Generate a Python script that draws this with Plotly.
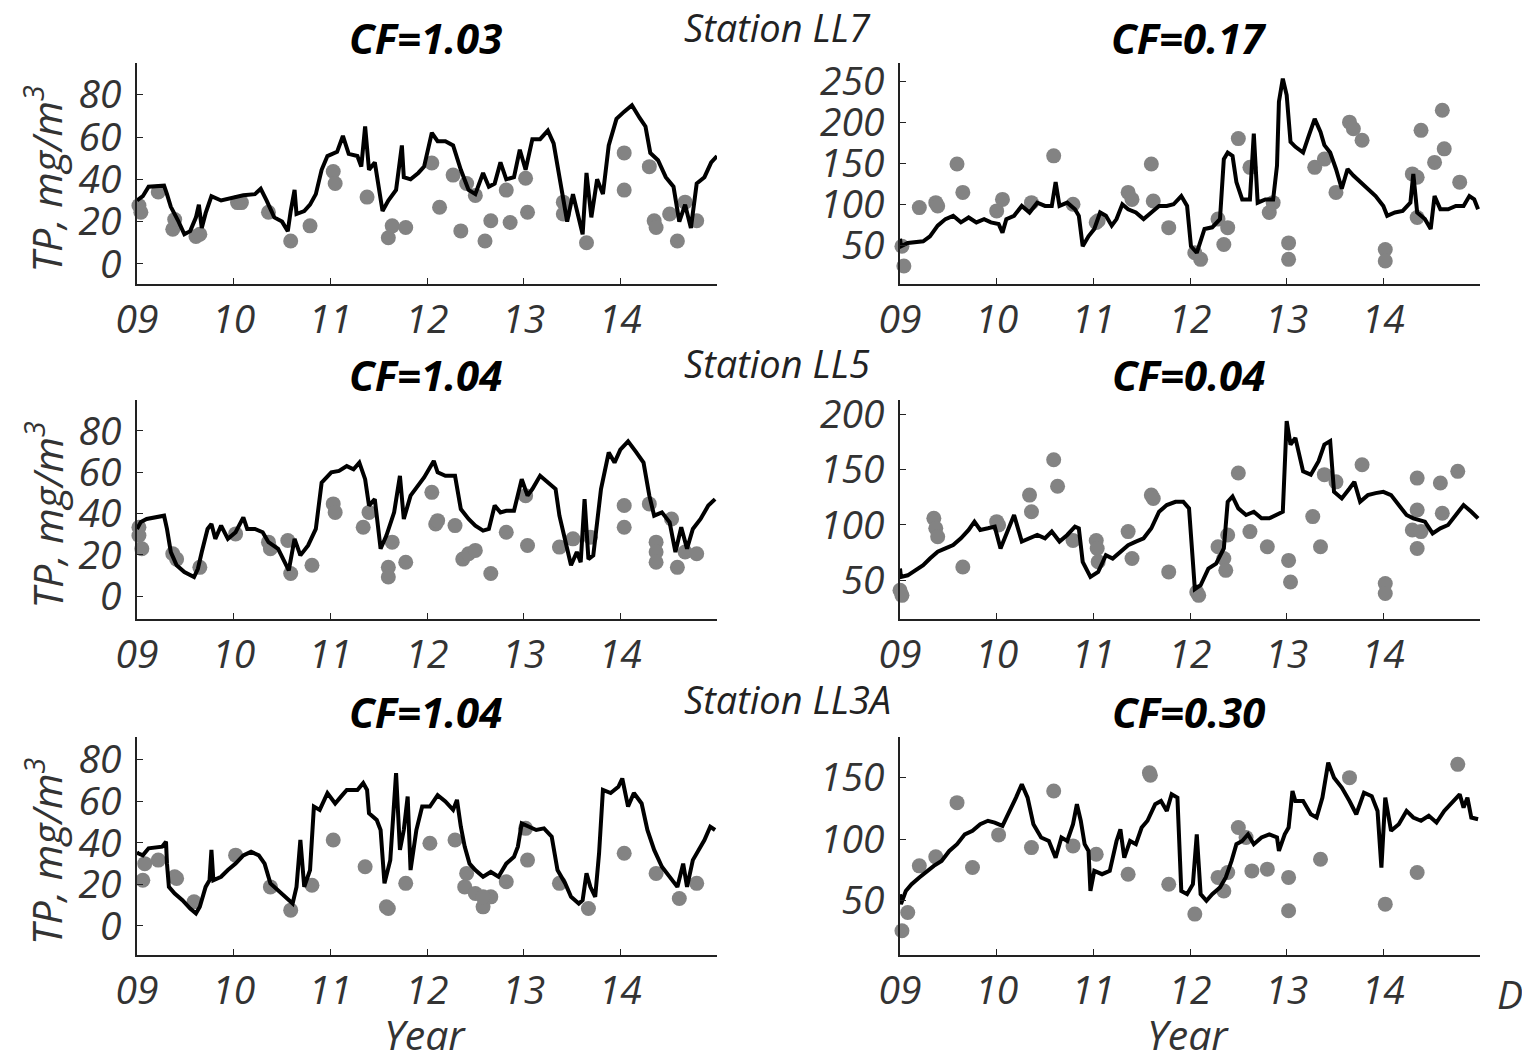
import plotly.graph_objects as go

# ---------------- data (x = two-digit year, decimal) ----------------
ll7_lake = [(9.00,30),(9.06,32),(9.12,36.5),(9.28,37),(9.31,33),(9.35,27),(9.43,20),(9.49,14),(9.55,15.5),(9.61,22),(9.64,28),(9.67,17),(9.71,24),(9.77,32),(9.87,30),(9.98,31),(10.10,32.5),(10.22,33),(10.28,35.5),(10.34,30),(10.42,22),(10.50,20),(10.56,15.5),(10.59,25),(10.63,35),(10.65,23.6),(10.73,25),(10.79,28),(10.85,33),(10.91,44.5),(10.97,51),(11.07,53),(11.13,60.5),(11.19,52),(11.28,51),(11.32,46),(11.36,65),(11.40,44.5),(11.46,48),(11.54,25),(11.60,30),(11.68,35),(11.74,56),(11.76,41),(11.83,40),(11.91,43),(11.97,46),(12.05,62),(12.11,58),(12.19,58),(12.27,56),(12.35,44.5),(12.43,35),(12.50,33),(12.58,43),(12.64,36.5),(12.70,38),(12.76,48),(12.82,40),(12.90,41),(12.96,54),(13.02,44.5),(13.09,59),(13.17,59),(13.25,63),(13.31,57),(13.37,41),(13.45,20),(13.51,33),(13.57,22),(13.61,14),(13.65,43),(13.70,22),(13.76,40),(13.82,33),(13.88,56),(13.96,68.6),(14.04,72),(14.12,75),(14.20,69),(14.26,65),(14.31,52.5),(14.39,49),(14.47,41),(14.55,36.5),(14.61,20),(14.67,28),(14.73,17),(14.79,38),(14.87,41),(14.94,48),(15.00,51)]
ll7_lake_obs = [(9.02,27.6),(9.04,24.4),(9.22,34),(9.37,16.4),(9.39,21),(9.61,13),(9.65,14),(10.04,29),(10.08,29),(10.36,24.4),(10.59,10.8),(10.79,18),(11.03,43.7),(11.05,38),(11.38,31.6),(11.60,12.4),(11.64,18),(11.78,17.2),(12.05,47.7),(12.13,26.8),(12.27,42),(12.35,15.6),(12.41,38),(12.50,32.4),(12.60,10.8),(12.66,20.4),(12.82,34.9),(12.86,19.6),(13.02,40.5),(13.04,24.4),(13.41,29.2),(13.41,23.6),(13.65,10),(14.04,52.5),(14.04,34.9),(14.30,46),(14.35,20.4),(14.37,17.2),(14.51,23.6),(14.59,10.8),(14.67,29.2),(14.79,20.4)]

ll7_sed = [(9.00,58),(9.01,49),(9.08,53),(9.24,55),(9.31,61),(9.39,74),(9.47,82),(9.55,86),(9.63,78),(9.71,84),(9.79,78),(9.87,82),(9.94,78),(10.02,76),(10.06,65.5),(10.10,82),(10.18,86),(10.26,98),(10.34,90),(10.42,102),(10.50,98),(10.57,98),(10.61,127),(10.65,98),(10.73,102),(10.81,94),(10.85,86),(10.89,49),(10.95,61),(11.01,70),(11.07,90),(11.13,86),(11.19,74),(11.24,82),(11.30,100),(11.36,94),(11.44,90),(11.52,82),(11.60,90),(11.68,98),(11.76,98),(11.83,100),(11.91,110),(11.97,98),(12.01,49),(12.07,41),(12.15,70),(12.23,72),(12.31,82),(12.35,155),(12.39,163),(12.44,159),(12.48,127),(12.54,106),(12.62,106),(12.66,186),(12.70,102),(12.78,106),(12.86,106),(12.90,147),(12.92,225),(12.96,253),(13.00,233),(13.04,176),(13.09,170),(13.17,163),(13.23,184),(13.29,204),(13.35,188),(13.39,172),(13.45,163),(13.51,143),(13.57,119),(13.63,143),(13.69,135),(13.76,127),(13.84,119),(13.92,110),(14.00,98),(14.04,86),(14.12,90),(14.20,92),(14.28,102),(14.31,137),(14.35,90),(14.43,82),(14.49,70),(14.53,110),(14.59,94),(14.67,94),(14.75,98),(14.83,98),(14.89,110),(14.94,106),(14.98,94)]
ll7_sed_obs = [(9.02,49),(9.04,25),(9.20,96),(9.37,102),(9.39,98),(9.59,149),(9.65,114.5),(10.00,92),(10.06,106),(10.36,102),(10.59,159),(10.79,100),(11.03,78),(11.05,80),(11.36,114.5),(11.40,106),(11.60,149),(11.62,104),(11.78,71.6),(12.05,41),(12.11,33),(12.29,82),(12.35,51),(12.39,71.6),(12.50,180),(12.62,145),(12.82,90),(12.86,102),(13.02,53),(13.02,33),(13.29,145),(13.39,155),(13.51,114.5),(13.65,200),(13.69,192),(13.78,178),(14.02,45),(14.02,31),(14.30,137),(14.35,133),(14.35,84),(14.39,190),(14.53,151),(14.63,167.5),(14.61,214.5),(14.79,127)]

ll5_lake = [(9.00,32.6),(9.04,36),(9.10,37.4),(9.28,39),(9.31,32.6),(9.35,21.4),(9.41,15),(9.49,11.7),(9.59,9.3),(9.63,13.3),(9.67,21.4),(9.73,32.6),(9.77,35),(9.81,27.8),(9.87,34.2),(9.94,27.8),(10.02,31),(10.10,38.2),(10.14,32.6),(10.22,32.6),(10.30,31),(10.36,26.2),(10.46,23),(10.54,15),(10.57,12.5),(10.63,27.8),(10.69,19.8),(10.77,24.6),(10.85,32.6),(10.91,55),(11.01,60),(11.09,60.7),(11.17,63),(11.24,61.5),(11.30,64.7),(11.36,56.7),(11.40,43.9),(11.46,47),(11.52,23),(11.58,29.4),(11.66,40.6),(11.72,58.3),(11.76,37.4),(11.83,48.7),(11.91,53.5),(11.97,57.5),(12.07,65.5),(12.11,60),(12.19,58.3),(12.29,58.3),(12.35,42.2),(12.43,37.4),(12.50,34.2),(12.58,31.8),(12.64,32.6),(12.70,43.9),(12.76,40.6),(12.82,41.4),(12.90,41.4),(12.98,56.7),(13.04,48.7),(13.09,51.9),(13.17,58.3),(13.25,55),(13.33,51.9),(13.37,39),(13.43,26.2),(13.49,15),(13.55,21.4),(13.59,16.5),(13.63,47),(13.67,18),(13.72,19.8),(13.80,51.9),(13.88,69.6),(13.94,64.7),(14.00,71),(14.08,75),(14.16,70),(14.24,64.7),(14.30,48.7),(14.35,39),(14.43,40.6),(14.51,35.8),(14.57,21.4),(14.63,33.4),(14.69,23),(14.75,32.6),(14.83,37.4),(14.91,43.9),(14.98,47)]
ll5_lake_obs = [(9.02,33.4),(9.02,29.4),(9.05,23),(9.37,20.6),(9.41,18),(9.65,14),(10.02,30.2),(10.36,26.2),(10.38,23),(10.56,27),(10.59,11),(10.81,15),(11.03,44.7),(11.05,40.6),(11.34,33.4),(11.40,40.6),(11.60,14),(11.60,9.3),(11.64,26.2),(11.78,16.5),(12.05,50.3),(12.09,35),(12.11,36.6),(12.29,34.2),(12.37,18),(12.43,20.6),(12.50,22.2),(12.66,11),(12.82,31),(13.02,48.7),(13.04,24.6),(13.37,23.8),(13.51,27.8),(13.69,28.6),(14.04,43.9),(14.04,33.4),(14.30,44.7),(14.37,26.2),(14.37,21.4),(14.37,16.5),(14.53,37.4),(14.59,14),(14.67,21.4),(14.79,20.6)]

ll5_sed = [(9.00,60.6),(9.01,53),(9.08,54.5),(9.16,59),(9.24,63.6),(9.31,69.7),(9.39,75.8),(9.47,78.8),(9.55,81.8),(9.63,87.9),(9.71,95.5),(9.77,103),(9.83,95.5),(9.91,97),(9.98,98.5),(10.04,78.8),(10.10,91),(10.18,109),(10.26,85),(10.34,88),(10.42,91),(10.50,88),(10.57,94),(10.65,85),(10.73,91),(10.81,98.5),(10.85,97),(10.89,66.7),(10.97,53),(11.05,57.6),(11.13,72.7),(11.20,69.7),(11.28,75.8),(11.36,81.8),(11.44,85),(11.52,88),(11.60,97),(11.68,112),(11.76,118),(11.85,121),(11.93,121),(11.99,115),(12.03,66.7),(12.05,42),(12.11,45.5),(12.19,60.6),(12.27,65),(12.35,78.8),(12.39,121),(12.44,125.8),(12.50,115),(12.58,109),(12.66,112),(12.74,106),(12.82,106),(12.90,109),(12.96,112),(13.00,194),(13.04,172.7),(13.09,178.8),(13.17,148.5),(13.25,145.5),(13.33,157.6),(13.39,172.7),(13.45,175.8),(13.49,130),(13.57,124),(13.65,133),(13.70,139),(13.76,121),(13.84,127),(13.92,128.8),(14.00,130),(14.08,127),(14.16,118),(14.24,109),(14.31,106),(14.43,103),(14.51,92.4),(14.59,97),(14.67,100),(14.75,109),(14.83,118),(14.91,112),(14.98,106)]
ll5_sed_obs = [(9.00,41),(9.02,36.4),(9.35,106),(9.37,97),(9.39,89.4),(9.65,62),(10.00,103),(10.02,100),(10.34,127),(10.36,112),(10.59,159),(10.63,135),(10.79,86),(11.03,86),(11.04,78.8),(11.05,66.7),(11.36,94),(11.40,69.7),(11.60,127),(11.62,124),(11.78,57.6),(12.07,39.4),(12.09,36.4),(12.29,80.3),(12.35,69.7),(12.37,59),(12.39,91),(12.50,147),(12.62,94),(12.80,80.3),(13.02,68),(13.04,48.5),(13.27,107.6),(13.35,80.3),(13.39,145.5),(13.51,139),(13.78,154.5),(14.02,47),(14.02,38),(14.30,95.5),(14.35,142.4),(14.35,113.6),(14.39,94),(14.35,78.8),(14.59,138),(14.61,110.6),(14.77,148.5)]

ll3a_lake = [(9.00,35.7),(9.01,35),(9.06,34),(9.12,37.4),(9.26,38.2),(9.30,40.6),(9.31,30),(9.33,18.8),(9.39,15.6),(9.47,12.4),(9.55,8.4),(9.61,6),(9.65,9.2),(9.71,18.8),(9.75,22),(9.77,36.6),(9.79,22),(9.87,23.7),(9.94,26.9),(10.02,30),(10.10,34),(10.18,35.7),(10.26,34),(10.32,30),(10.38,20.5),(10.46,17.2),(10.54,14),(10.61,10.8),(10.65,18.8),(10.69,41.4),(10.73,18.8),(10.79,26.9),(10.83,57.5),(10.89,55.9),(10.97,64),(11.05,59),(11.11,62.3),(11.17,65.5),(11.28,65.5),(11.34,68.8),(11.38,65.5),(11.40,54.3),(11.48,51),(11.52,46.2),(11.56,20.5),(11.62,31.7),(11.68,73.6),(11.72,36.6),(11.76,46.2),(11.80,62.3),(11.83,26.9),(11.89,46.2),(11.95,57.5),(12.03,57.5),(12.11,63),(12.19,60),(12.27,55.9),(12.31,60.7),(12.35,47.8),(12.39,38.2),(12.44,30),(12.50,26.9),(12.58,23.7),(12.66,26),(12.74,23.7),(12.82,30),(12.90,33.3),(12.94,38.2),(12.98,49.4),(13.06,47.8),(13.13,46.2),(13.21,47),(13.29,43),(13.35,26.9),(13.43,20.5),(13.49,14),(13.57,10.8),(13.61,12.4),(13.65,25.3),(13.69,18.8),(13.74,14),(13.78,35),(13.82,65.5),(13.90,64),(13.98,67),(14.02,71),(14.08,57.5),(14.14,64),(14.22,59),(14.28,46.2),(14.35,36.6),(14.43,28.5),(14.51,23.7),(14.59,18.8),(14.65,30),(14.69,18.8),(14.75,31.7),(14.81,36.6),(14.87,41.4),(14.93,47.8),(14.98,46.2)]
ll3a_lake_obs = [(9.06,22),(9.08,30),(9.22,31.7),(9.39,23.7),(9.41,22.9),(9.59,11.6),(10.02,34.1),(10.38,18.8),(10.59,7.6),(10.81,19.6),(11.03,41.4),(11.36,28.5),(11.58,9.2),(11.60,8.4),(11.78,20.5),(12.03,39.8),(12.29,41.4),(12.39,18.8),(12.41,25.3),(12.50,15.6),(12.58,9.2),(12.66,14),(12.58,14),(12.82,21.3),(13.02,47),(13.04,31.7),(13.37,20.5),(13.67,8.4),(14.04,35),(14.37,25.3),(14.61,13.2),(14.79,20.5)]

ll3a_sed = [(9.00,55.4),(9.01,47.3),(9.06,58),(9.12,63.5),(9.20,69),(9.28,74.3),(9.35,78.4),(9.43,82.4),(9.51,90.5),(9.59,96),(9.67,104),(9.75,106.8),(9.83,112.2),(9.91,115),(9.98,113.5),(10.06,110.8),(10.14,123),(10.20,133.8),(10.26,144.6),(10.32,133.8),(10.38,112.2),(10.46,101.4),(10.54,98.6),(10.61,85),(10.67,101.4),(10.73,98.6),(10.79,112.2),(10.83,128.4),(10.87,115),(10.91,96),(10.95,90.5),(10.97,58),(11.01,74.3),(11.09,71.6),(11.17,74.3),(11.24,98.6),(11.28,108),(11.32,85),(11.38,98.6),(11.44,96),(11.50,109.5),(11.56,115),(11.64,128.4),(11.70,131),(11.76,123),(11.81,136.5),(11.87,133.8),(11.91,58),(11.97,55.4),(12.03,63.5),(12.07,104),(12.11,55.4),(12.17,50),(12.23,55.4),(12.31,60.8),(12.37,69),(12.43,82.4),(12.48,96),(12.54,98.6),(12.60,104),(12.66,96),(12.74,101.4),(12.82,104),(12.90,101.4),(12.92,90.5),(12.98,104),(13.02,109.5),(13.06,139.2),(13.09,131),(13.17,131),(13.25,120.3),(13.31,117.6),(13.37,133.8),(13.43,162.2),(13.49,150),(13.57,141.9),(13.65,131),(13.72,120.3),(13.80,137.8),(13.88,135),(13.94,123),(13.98,77),(14.02,133.8),(14.08,106.8),(14.16,112.2),(14.24,123),(14.31,117.6),(14.39,115),(14.47,119),(14.55,113.5),(14.63,123),(14.71,129.7),(14.79,136.5),(14.83,125.7),(14.87,133.8),(14.91,117.6),(14.98,116.2)]
ll3a_sed_obs = [(9.02,25.7),(9.08,40.5),(9.20,78.4),(9.37,85.7),(9.59,129.7),(9.75,77),(10.02,103.5),(10.36,93.2),(10.59,139.2),(10.79,94.6),(11.03,87.8),(11.36,71.6),(11.58,154),(11.59,152),(11.78,63.5),(12.05,39.2),(12.29,69),(12.35,58),(12.39,73),(12.50,109.5),(12.58,101.4),(12.64,74.3),(12.80,75.7),(13.02,69),(13.02,41.9),(13.35,83.8),(13.65,150),(14.02,47.3),(14.35,73),(14.77,160.8)]

year_ticks = [9, 10, 11, 12, 13, 14]
year_labels = ["09", "10", "11", "12", "13", "14"]
cf_left = ["CF=1.03", "CF=1.04", "CF=1.04"]
cf_right = ["CF=0.17", "CF=0.04", "CF=0.30"]
stations = ["Station LL7", "Station LL5", "Station LL3A"]

# ---------------- layout geometry ----------------
W, H = 1522, 1054
FONT = "Open Sans"
col_px = [(137, 717), (900, 1480)]
row_px = [(63, 284), (400, 619), (737, 955)]

panels = [
    (0, 0, ll7_lake, ll7_lake_obs, [-9.5, 95], [0, 20, 40, 60, 80]),
    (0, 1, ll7_sed, ll7_sed_obs, [3, 272], [50, 100, 150, 200, 250]),
    (1, 0, ll5_lake, ll5_lake_obs, [-11, 95], [0, 20, 40, 60, 80]),
    (1, 1, ll5_sed, ll5_sed_obs, [15, 213], [50, 100, 150, 200]),
    (2, 0, ll3a_lake, ll3a_lake_obs, [-14, 91], [0, 20, 40, 60, 80]),
    (2, 1, ll3a_sed, ll3a_sed_obs, [6, 183], [50, 100, 150]),
]

tick_font = dict(family=FONT, size=39, color="#333", style="italic")

fig = go.Figure()
layout = {}
for i, (r, c, line, obs, yr, yt) in enumerate(panels):
    n = i + 1
    xs = "x" if n == 1 else f"x{n}"
    ys = "y" if n == 1 else f"y{n}"
    xk = "xaxis" if n == 1 else f"xaxis{n}"
    yk = "yaxis" if n == 1 else f"yaxis{n}"
    fig.add_trace(go.Scatter(x=[p[0] for p in obs], y=[p[1] for p in obs], mode="markers",
                             marker=dict(color="#838383", size=15, line=dict(width=0)),
                             xaxis=xs, yaxis=ys, showlegend=False, cliponaxis=False))
    fig.add_trace(go.Scatter(x=[p[0] for p in line], y=[p[1] for p in line], mode="lines",
                             line=dict(color="black", width=4),
                             xaxis=xs, yaxis=ys, showlegend=False))
    x0, x1 = col_px[c]
    y0, y1 = row_px[r]
    layout[xk] = dict(domain=[x0 / W, x1 / W], range=[9, 15], anchor=ys, automargin=False,
                      tickmode="array", tickvals=year_ticks, ticktext=year_labels,
                      ticks="inside", ticklen=6, tickcolor="#222", tickwidth=1.2,
                      showline=True, linecolor="#222", linewidth=1.5,
                      showgrid=False, zeroline=False, ticklabelstandoff=0, tickfont=tick_font)
    layout[yk] = dict(domain=[1 - y1 / H, 1 - y0 / H], range=yr, anchor=xs, automargin=False,
                      tickmode="array", tickvals=yt,
                      ticks="inside", ticklen=6, tickcolor="#222", tickwidth=1.2,
                      showline=True, linecolor="#222", linewidth=1.5,
                      showgrid=False, zeroline=False, ticklabelstandoff=6, tickfont=tick_font)

ann = []
title_y = [38, 375, 711]
station_y = [27, 363, 699]
for r in range(3):
    for xc, txt in ((425, cf_left[r]), (1188, cf_right[r])):
        ann.append(dict(text=txt, x=xc / W, y=1 - title_y[r] / H, xref="paper", yref="paper",
                        showarrow=False, xanchor="center", yanchor="middle",
                        font=dict(family=FONT, size=42, color="black", style="italic", weight="bold")))
    ann.append(dict(text=stations[r], x=682 / W, y=1 - station_y[r] / H, xref="paper", yref="paper",
                    showarrow=False, xanchor="left", yanchor="middle",
                    font=dict(family=FONT, size=38, color="#222", style="italic")))
    yc = (row_px[r][0] + row_px[r][1]) / 2 + 5
    ann.append(dict(text="TP, mg/m<sup>3</sup>", x=44 / W, y=1 - yc / H, xref="paper", yref="paper",
                    showarrow=False, textangle=-90, xanchor="center", yanchor="middle",
                    font=dict(family=FONT, size=41, color="#333", style="italic")))
for xc in (425, 1188):
    ann.append(dict(text="Year", x=xc / W, y=1 - 1034 / H, xref="paper", yref="paper",
                    showarrow=False, xanchor="center", yanchor="middle",
                    font=dict(family=FONT, size=41, color="#333", style="italic")))
ann.append(dict(text="D", x=1495 / W, y=1 - 993 / H, xref="paper", yref="paper",
                showarrow=False, xanchor="left", yanchor="middle",
                font=dict(family=FONT, size=39, color="#333", style="italic")))

fig.update_layout(template="none", width=W, height=H, margin=dict(l=0, r=0, t=0, b=0, pad=0),
                  paper_bgcolor="white", plot_bgcolor="white", annotations=ann, **layout)
fig.write_html("out.html")
